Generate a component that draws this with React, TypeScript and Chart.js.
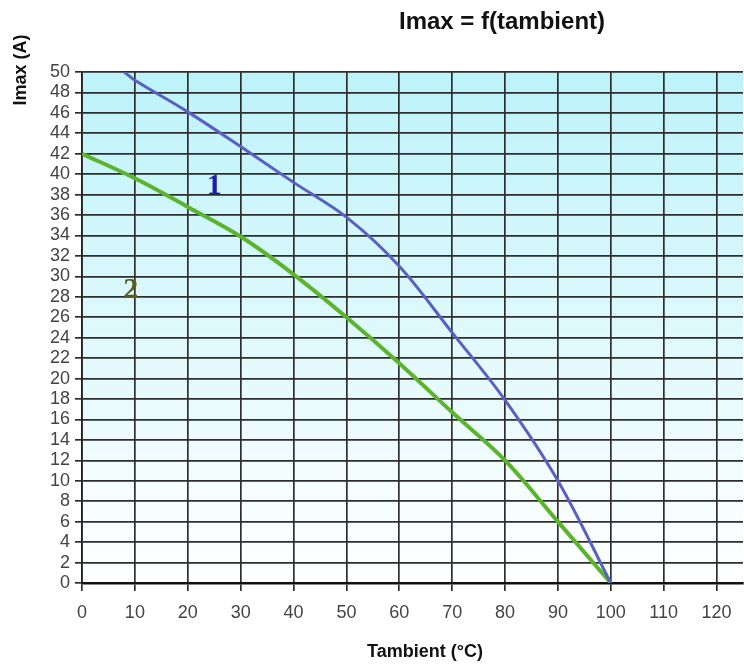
import React, { useEffect, useRef } from "react";
import { Chart, registerables } from "chart.js";

Chart.register(...registerables);

// ---- data ----
const curve1X = [8, 10, 20, 30, 40, 50, 60, 70, 80, 90, 100];
const curve1Y = [50, 49.2, 46.1, 42.7, 39.2, 35.8, 31.0, 24.5, 17.9, 10.0, 0];
const curve2X = [0, 10, 20, 30, 40, 50, 60, 70, 80, 90, 100];
const curve2Y = [42, 39.6, 36.8, 33.9, 30.2, 26.0, 21.5, 16.7, 12.0, 6.0, 0];
const curveLabels = ["1", "2"];
const curveLabelX = [25, 9.2];
const curveLabelY = [38.8, 28.6];
const titleText = "Imax = f(tambient)";
const yTitleText = "Imax (A)";
const xTitleText = "Tambient (°C)";
const xTickValues = [0, 10, 20, 30, 40, 50, 60, 70, 80, 90, 100, 110, 120];
const xMin = 0;
const xMax = 125;
const yMin = 0;
const yMax = 50;
const yStep = 2;

const SANS = "'Liberation Sans', Arial, sans-serif";
const SERIF = "'Liberation Serif', 'Times New Roman', serif";

const bgPlugin = {
  id: "bgGradient",
  beforeDraw(chart: any) {
    const { ctx, chartArea } = chart;
    if (!chartArea) return;
    const g = ctx.createLinearGradient(0, chartArea.top, 0, chartArea.bottom);
    g.addColorStop(0, "#bcf3fa");
    g.addColorStop(0.5, "#def9fc");
    g.addColorStop(0.85, "#f7fdfe");
    g.addColorStop(1, "#ffffff");
    ctx.save();
    ctx.fillStyle = g;
    ctx.fillRect(chartArea.left, chartArea.top, chartArea.right - chartArea.left, chartArea.bottom - chartArea.top);
    ctx.restore();
  },
};

const textPlugin = {
  id: "textDecor",
  afterDraw(chart: any) {
    const { ctx, scales } = chart;
    ctx.save();
    ctx.fillStyle = "#111";
    ctx.font = `bold 24px ${SANS}`;
    ctx.textAlign = "center";
    ctx.textBaseline = "middle";
    ctx.fillText(titleText, 502, 22);
    ctx.save();
    ctx.translate(21, 70);
    ctx.rotate(-Math.PI / 2);
    ctx.font = `bold 18px ${SANS}`;
    ctx.fillText(yTitleText, 0, 0);
    ctx.restore();
    ctx.font = `bold 18px ${SANS}`;
    ctx.fillText(xTitleText, 425, 652);
    const colors = ["#1c1cb0", "#5a5c18"];
    ctx.font = `bold 30px ${SERIF}`;
    curveLabels.forEach((t, i) => {
      ctx.fillStyle = colors[i];
      ctx.fillText(t, scales.x.getPixelForValue(curveLabelX[i]), scales.y.getPixelForValue(curveLabelY[i]));
    });
    ctx.restore();
  },
};

export default function App() {
  const ref = useRef<HTMLCanvasElement | null>(null);
  useEffect(() => {
    if (!ref.current) return;
    const chart = new Chart(ref.current, {
      type: "line",
      data: {
        datasets: [
          {
            label: "1",
            data: curve1X.map((x, i) => ({ x, y: curve1Y[i] })),
            borderColor: "#5a5fc2",
            borderWidth: 3,
            pointRadius: 0,
            tension: 0.35,
            fill: false,
          },
          {
            label: "2",
            data: curve2X.map((x, i) => ({ x, y: curve2Y[i] })),
            borderColor: "#5cb42c",
            borderWidth: 4,
            pointRadius: 0,
            tension: 0.35,
            fill: false,
          },
        ],
      },
      options: {
        animation: false,
        responsive: false,
        maintainAspectRatio: false,
        layout: { padding: { top: 72, right: 1, left: 0, bottom: 0 } },
        plugins: { legend: { display: false }, tooltip: { enabled: false }, title: { display: false } },
        scales: {
          x: {
            type: "linear",
            min: xMin,
            max: xMax,
            afterBuildTicks: (s: any) => {
              s.ticks = xTickValues.map((v) => ({ value: v }));
            },
            afterFit: (s: any) => {
              s.height = 83;
            },
            ticks: {
              autoSkip: false,
              padding: 11,
              color: "#444",
              font: { family: SANS, size: 18 },
            },
            grid: { color: "#2e2e2e", lineWidth: 1.7, tickLength: 8 },
            border: { color: "#111", width: 2.5 },
          },
          y: {
            type: "linear",
            min: yMin,
            max: yMax,
            afterFit: (s: any) => {
              s.width = 82;
            },
            ticks: {
              stepSize: yStep,
              autoSkip: false,
              padding: 5,
              color: "#444",
              font: { family: SANS, size: 18 },
            },
            grid: { color: "#2e2e2e", lineWidth: 1.7, tickLength: 7 },
            border: { color: "#222", width: 1.7 },
          },
        },
      },
      plugins: [bgPlugin, textPlugin],
    } as any);
    return () => chart.destroy();
  }, []);
  return (
    <div style={{ position: "fixed", left: 0, top: 0, width: 744, height: 666, background: "#fff" }}>
      <canvas ref={ref} width={744} height={666} style={{ width: 744, height: 666, display: "block" }} />
    </div>
  );
}
